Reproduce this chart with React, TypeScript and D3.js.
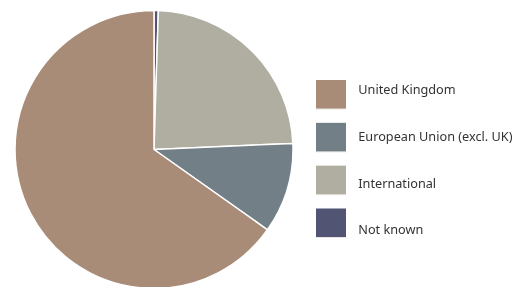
import React from "react";
import * as d3 from "d3";

// shares in %, pie order runs clockwise from 12 o'clock
const pieOrder = ["Not known", "International", "European Union (excl. UK)", "United Kingdom"];
const shares = [0.5, 23.8, 10.5, 65.2];

// legend order
const legendLabels = ["United Kingdom", "European Union (excl. UK)", "International", "Not known"];

const colors: Record<string, string> = {
  "United Kingdom": "#a98c78",
  "European Union (excl. UK)": "#727f87",
  "International": "#afaea0",
  "Not known": "#525473",
};

export default function App() {
  const width = 525, height = 287;
  const cx = 154, cy = 149.5, r = 139;

  const data = pieOrder.map((name, i) => ({ name, value: shares[i] }));
  const pie = d3.pie<{ name: string; value: number }>().sort(null).value(d => d.value);
  const arc = d3.arc<d3.PieArcDatum<{ name: string; value: number }>>().innerRadius(0).outerRadius(r);
  const arcs = pie(data);

  // swatches and labels sit on slightly different pitches in the original
  const swatchY = d3.scalePoint().domain(legendLabels).range([80, 208.5]);
  const labelY = d3.scalePoint().domain(legendLabels).range([94, 234.4]);

  return (
    <svg width={width} height={height} style={{ position: "fixed", left: 0, top: 0 }}
      fontFamily="'Noto Sans', sans-serif">
      <g transform={`translate(${cx},${cy})`}>
        {arcs.map(a => (
          <path key={a.data.name} d={arc(a) || ""} fill={colors[a.data.name]}
            stroke="#fff" strokeWidth={1.5} strokeLinejoin="round" />
        ))}
      </g>
      <g>
        {legendLabels.map(name => (
          <g key={name}>
            <rect x={316} y={swatchY(name)! + 1} width={30} height={28.5} fill="#e8e4e0" />
            <rect x={316} y={swatchY(name)!} width={30} height={28.5} fill={colors[name]} />
            <text x={358.3} y={labelY(name)!} fontSize={12.7} fill="#333">{name}</text>
          </g>
        ))}
      </g>
    </svg>
  );
}
